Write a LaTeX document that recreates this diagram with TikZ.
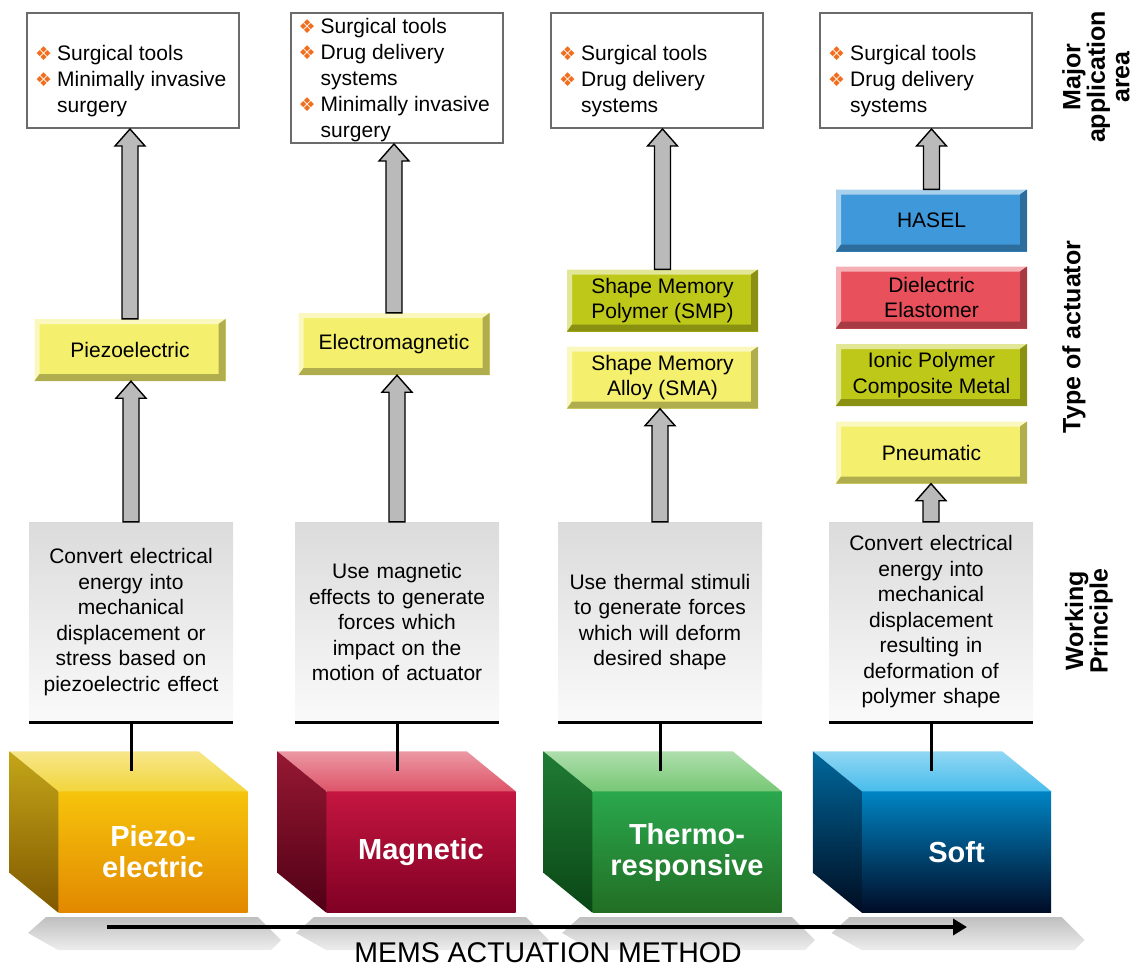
\documentclass[tikz,border=0pt]{standalone}
\usepackage{fontspec}
\setmainfont{Liberation Sans}
\newfontfamily\symfont{DejaVu Sans}
\usetikzlibrary{arrows.meta,calc}

\definecolor{bulorange}{RGB}{240,110,30}
\definecolor{boxyellow}{RGB}{244,240,110}
\definecolor{boxolive}{RGB}{190,200,25}
\definecolor{boxred}{RGB}{232,80,92}
\definecolor{boxblue}{RGB}{62,152,218}
%% cube colours: A top face, B/C front face, D/E side face
\definecolor{piezoA}{RGB}{242,214,60}
\definecolor{piezoB}{RGB}{246,196,12}
\definecolor{piezoC}{RGB}{226,136,0}
\definecolor{piezoD}{RGB}{196,166,24}
\definecolor{piezoE}{RGB}{128,88,0}
\definecolor{magneticA}{RGB}{222,84,104}
\definecolor{magneticB}{RGB}{196,22,64}
\definecolor{magneticC}{RGB}{128,0,36}
\definecolor{magneticD}{RGB}{150,24,50}
\definecolor{magneticE}{RGB}{80,0,22}
\definecolor{thermoA}{RGB}{120,200,118}
\definecolor{thermoB}{RGB}{42,168,78}
\definecolor{thermoC}{RGB}{34,110,36}
\definecolor{thermoD}{RGB}{32,124,52}
\definecolor{thermoE}{RGB}{10,70,22}
\definecolor{softA}{RGB}{72,188,236}
\definecolor{softB}{RGB}{0,132,196}
\definecolor{softC}{RGB}{0,12,38}
\definecolor{softD}{RGB}{0,104,156}
\definecolor{softE}{RGB}{0,12,32}

\newcommand\wptxt{\fontsize{21}{25.5}\selectfont}
\newcommand\apptxt{\fontsize{21}{26}\selectfont}
\newcommand\lbltxt{\fontsize{25}{24.5}\selectfont\bfseries}
\newcommand\cubetxt{\fontsize{29}{31}\selectfont\bfseries}
\newcommand\bul{{\symfont\fontsize{19}{19}\selectfont\textcolor{bulorange}{❖}}}

\tikzset{
  appbox/.style={draw=black!58, line width=2pt, fill=white, minimum width=212pt, minimum height=115pt},
  apptext/.style={anchor=west, inner sep=0pt, font=\apptxt},
  wpbox/.style={top color=black!14, bottom color=black!2, minimum width=204pt, minimum height=200pt,
    inner sep=0pt, text width=200pt, align=center, font=\wptxt},
  actbox/.style={fill=#1, minimum width=191pt, minimum height=62pt, inner sep=0pt, align=center, font=\wptxt,
    path picture={
      \fill[#1!45!white] (path picture bounding box.south west) |- (path picture bounding box.north east)
        -- ++(-7pt,-5pt) -| ([shift={(5pt,7pt)}]path picture bounding box.south west) -- cycle;
      \fill[#1!72!black] (path picture bounding box.north east) |- (path picture bounding box.south west)
        -- ++(5pt,7pt) -| ([shift={(-7pt,-5pt)}]path picture bounding box.north east) -- cycle;
    }},
  arrowbody/.style={draw=black, fill=black!27, line width=1.4pt},
  tline/.style={line width=3pt},
  cubeface/.style={minimum width=189pt, minimum height=121pt, text=white, font=\cubetxt, align=center},
  sidelabel/.style={rotate=90, font=\lbltxt, align=center}
}

%% fat grey arrow going up from #1 to #2
\newcommand\bigarrow[2]{%
  \draw[arrowbody] let \p1=(#1), \p2=(#2) in
    (\x1-8pt,\y1) -- (\x1-8pt,\y2-17pt) -- (\x1-15pt,\y2-17pt) -- (\x1,\y2)
    -- (\x1+15pt,\y2-17pt) -- (\x1+8pt,\y2-17pt) -- (\x1+8pt,\y1) -- cycle;}

%% cube: #1 name and colour prefix, #2 x of front face, #3 label
\newcommand\memscube[3]{%
  \shade[top color=black!25, bottom color=black!7] ({#2-125},933) -- ({#2-107},917) -- ({#2+105},917)
    -- ({#2+128},940) -- ({#2+118},950) -- ({#2-95},950) -- cycle;
  \node[cubeface, top color=#1B, bottom color=#1C] (#1) at (#2,852) {#3};
  \shade[top color=#1A!60!white, bottom color=#1A] (#1.north west) -- ([shift={(-49,-40)}]#1.north west)
    -- ([shift={(-49,-40)}]#1.north east) -- (#1.north east) -- cycle;
  \shade[top color=#1D, bottom color=#1E] (#1.north west) -- ([shift={(-49,-40)}]#1.north west)
    -- ([shift={(-49,-40)}]#1.south west) -- (#1.south west) -- cycle;
  \coordinate (#1top) at ([shift={(-24.5,-20)}]#1.north);}

\begin{document}
\begin{tikzpicture}[x=1pt,y=-1pt]
\useasboundingbox (0,0) rectangle (1148,969);

%% application areas
\node[appbox] (app1) at (133,70.5) {};
\node[appbox, minimum height=130pt] (app2) at (396.5,78) {};
\node[appbox] (app3) at (657,70.5) {};
\node[appbox] (app4) at (926,70.5) {};
\node[apptext] (app1txt) at ([shift={(9,10.5)}]app1.west) {\begin{tabular}{@{}l@{\hspace{5pt}}l@{}}
  \bul & Surgical tools\\ \bul & Minimally invasive\\ & surgery\end{tabular}};
\node[apptext] (app2txt) at ([shift={(9,2.5)}]app2.west) {\begin{tabular}{@{}l@{\hspace{5pt}}l@{}}
  \bul & Surgical tools\\ \bul & Drug delivery\\ & systems\\ \bul & Minimally invasive\\ & surgery\end{tabular}};
\node[apptext] (app3txt) at ([shift={(9,10.5)}]app3.west) {\begin{tabular}{@{}l@{\hspace{5pt}}l@{}}
  \bul & Surgical tools\\ \bul & Drug delivery\\ & systems\end{tabular}};
\node[apptext] (app4txt) at ([shift={(9,10.5)}]app4.west) {\begin{tabular}{@{}l@{\hspace{5pt}}l@{}}
  \bul & Surgical tools\\ \bul & Drug delivery\\ & systems\end{tabular}};

%% actuator types
\node[actbox=boxyellow] (piezoact) at (130,350) {Piezoelectric};
\node[actbox=boxyellow] (emact) at (394,344) {Electromagnetic};
\node[actbox=boxolive] (smp) at (662.5,300.5) {Shape Memory\\Polymer (SMP)};
\node[actbox=boxyellow] (sma) at (662.5,377.5) {Shape Memory\\Alloy (SMA)};
\node[actbox=boxblue] (hasel) at (931.5,220.5) {HASEL};
\node[actbox=boxred] (dea) at (931.5,297.5) {Dielectric\\Elastomer};
\node[actbox=boxolive] (ipmc) at (931.5,375) {Ionic Polymer\\Composite Metal};
\node[actbox=boxyellow] (pneu) at (931.5,452.5) {Pneumatic};

%% working principles
\node[wpbox] (wp1) at (131,622) {Convert electrical\\energy into\\mechanical\\displacement or\\stress based on\\piezoelectric effect};
\node[wpbox] (wp2) at (397,622) {Use magnetic\\effects to generate\\forces which\\impact on the\\motion of actuator};
\node[wpbox] (wp3) at (660,622) {Use thermal stimuli\\to generate forces\\which will deform\\desired shape};
\node[wpbox] (wp4) at (931,622) {Convert electrical\\energy into\\mechanical\\displacement\\resulting in\\deformation of\\polymer shape};

%% arrows
\bigarrow{wp1.north}{piezoact.south}
\bigarrow{piezoact.north}{app1.south}
\bigarrow{wp2.north}{emact.south}
\bigarrow{emact.north}{app2.south}
\bigarrow{wp3.north}{sma.south}
\bigarrow{smp.north}{app3.south}
\bigarrow{wp4.north}{pneu.south}
\bigarrow{hasel.north}{app4.south}

%% cubes
\memscube{piezo}{153}{Piezo-\\electric}
\memscube{magnetic}{421}{Magnetic}
\memscube{thermo}{687}{Thermo-\\responsive}
\memscube{soft}{956.5}{Soft}

%% connectors
\draw[tline] (wp1.south west) -- (wp1.south east);
\draw[tline] (wp1.south) -- (wp1.south |- piezotop);
\draw[tline] (wp2.south west) -- (wp2.south east);
\draw[tline] (wp2.south) -- (wp2.south |- magnetictop);
\draw[tline] (wp3.south west) -- (wp3.south east);
\draw[tline] (wp3.south) -- (wp3.south |- thermotop);
\draw[tline] (wp4.south west) -- (wp4.south east);
\draw[tline] (wp4.south) -- (wp4.south |- softtop);

%% axis
\coordinate (axisL) at (107,927);
\coordinate (axisR) at (967,927);
\draw[line width=4pt, -{Triangle[length=14pt,width=16pt]}] (axisL) -- (axisR);
\node[font=\fontsize{28.5}{30}\selectfont] (axislbl) at (548,953) {MEMS ACTUATION METHOD};

%% side labels
\node[sidelabel] (lblapp) at (1096,77) {Major\\application\\area};
\node[sidelabel] (lbltype) at (1074,337) {Type of actuator};
\node[sidelabel] (lblwork) at (1089,621) {Working\\Principle};
\end{tikzpicture}
\end{document}
